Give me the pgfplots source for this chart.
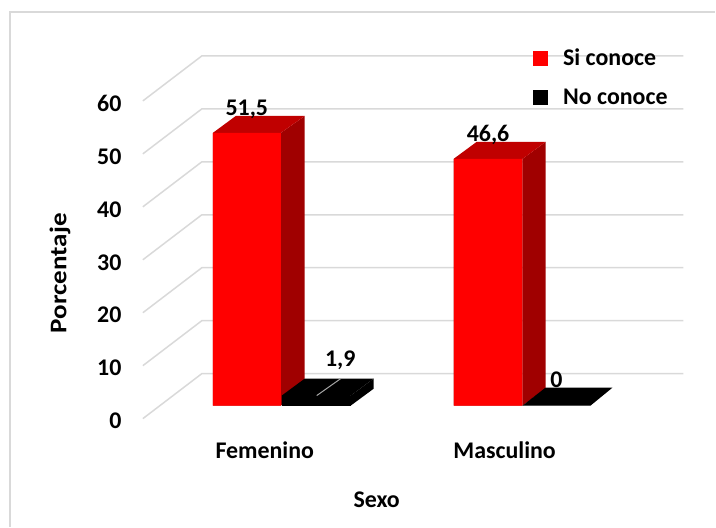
\documentclass[border=0pt]{standalone}
\usepackage{fontspec}
\setmainfont{Carlito}
\usepackage{pgfplots}
\pgfplotsset{compat=1.18}
\definecolor{rojo}{HTML}{FF0000}
\definecolor{rojolado}{HTML}{A00000}
\definecolor{rojotop}{HTML}{C00000}
\definecolor{rejilla}{HTML}{D9D9D9}
\newcommand{\rotulo}{\fontsize{24pt}{28pt}\selectfont\bfseries}
\begin{document}
\begin{tikzpicture}[x=1bp,y=1bp]
\begin{axis}[
    scale only axis,
    width=541bp, height=363bp,
    xmin=143, xmax=684,
    ymin=-2.453, ymax=66.04,
    clip=false,
    axis line style={draw=none},
    major tick length=0pt,
    font=\rotulo,
    tick label style={font=\rotulo},
    label style={font=\rotulo},
    xtick={265,505},
    xticklabels={Femenino,Masculino},
    x tick label style={yshift=-20bp},
    ytick={-2.453,7.547,17.547,27.547,37.547,47.547,57.547},
    yticklabels={0,10,20,30,40,50,60},
    y tick label style={xshift=-18bp,yshift=-2.5bp},
    xlabel={Sexo},
    ylabel={\scalebox{1.13}[1]{Porcentaje}},
    every axis x label/.style={at={(axis cs:377,-17.8)},anchor=center},
    every axis y label/.style={at={(axis cs:60,25)},anchor=center,rotate=90},
    legend style={at={(axis cs:533,67.8)},anchor=north west,draw=none,fill=none,
        font=\rotulo,row sep=17.5bp,inner sep=0pt,
        /tikz/every even column/.append style={column sep=0pt}},
    legend cell align=left,
    nodes near coords style={font=\rotulo},
    /pgf/number format/assume math mode=true,
    /pgf/number format/use comma,
]
% legend
\addlegendimage{legend image code/.code={\fill[rojo] (0bp,-7bp) rectangle (14bp,7bp);}}
\addlegendentry{\hspace{14bp}Si conoce}
\addlegendimage{legend image code/.code={\fill[black] (0bp,-7bp) rectangle (14bp,7bp);}}
\addlegendentry{\hspace{14bp}No conoce}

% walls: front edge, back edge, right end of each gridline
\addplot[forget plot,rejilla,line width=1.5bp,unbounded coords=jump] coordinates {
    (143,-2.453) (202,6.04)  (684,6.04)  (143,nan)
    (143,7.547)  (202,16.04) (684,16.04) (143,nan)
    (143,17.547) (202,26.04) (684,26.04) (143,nan)
    (143,27.547) (202,36.04) (684,36.04) (143,nan)
    (143,37.547) (202,46.04) (684,46.04) (143,nan)
    (143,47.547) (202,56.04) (684,56.04) (143,nan)
    (143,57.547) (202,66.04) (684,66.04)
};

% Si conoce: side and top faces, then the fronts
\addplot[forget plot,fill=rojolado,draw=none] coordinates {(281,0) (305,3.2) (305,54.7) (281,51.5)} \closedcycle;
\addplot[forget plot,fill=rojotop,draw=none] coordinates {(213,51.5) (236,54.7) (305,54.7) (281,51.5)} \closedcycle;
\addplot[forget plot,fill=rojolado,draw=none] coordinates {(523,0) (546,3.2) (546,49.8) (523,46.6)} \closedcycle;
\addplot[forget plot,fill=rojotop,draw=none] coordinates {(454,46.6) (477,49.8) (546,49.8) (523,46.6)} \closedcycle;
\addplot[forget plot,ybar,bar width=68,bar shift=0pt,fill=rojo,draw=none,
    nodes near coords,every node near coord/.append style={anchor=center,yshift=24bp,text=black}]
    coordinates {(247,51.5) (488.5,46.6)};

% No conoce, Femenino 1.9
\addplot[forget plot,fill=black,draw=none] coordinates {(351,0) (374,3.2) (374,5.1) (351,1.9)} \closedcycle;
\addplot[forget plot,fill=black,draw=none] coordinates {(282,1.9) (305,5.1) (374,5.1) (351,1.9)} \closedcycle;
\addplot[forget plot,ybar,bar width=69,bar shift=0pt,fill=black,draw=none,
    nodes near coords,every node near coord/.append style={anchor=center,xshift=24bp,yshift=35bp,text=black}]
    coordinates {(316.5,1.9)};
\addplot[forget plot,gray!70,line width=1bp] coordinates {(317,1.9) (341,5.1)};

% No conoce, Masculino 0
\addplot[forget plot,fill=black,draw=none] coordinates {(523,0) (546,3.4) (613,3.4) (591,0)} \closedcycle;
\addplot[forget plot,ybar,bar width=69,bar shift=0pt,fill=black,draw=none,
    nodes near coords,every node near coord/.append style={anchor=center,xshift=0bp,yshift=26bp,text=black}]
    coordinates {(557,0)};

% chart frame and page size
\draw[rejilla,line width=1.2bp] (axis cs:10,-22.83) -- (axis cs:10,74.34) -- (axis cs:716,74.34);
\path (axis cs:0,-22.83) rectangle (axis cs:716,76.6);
\end{axis}
\end{tikzpicture}
\end{document}
